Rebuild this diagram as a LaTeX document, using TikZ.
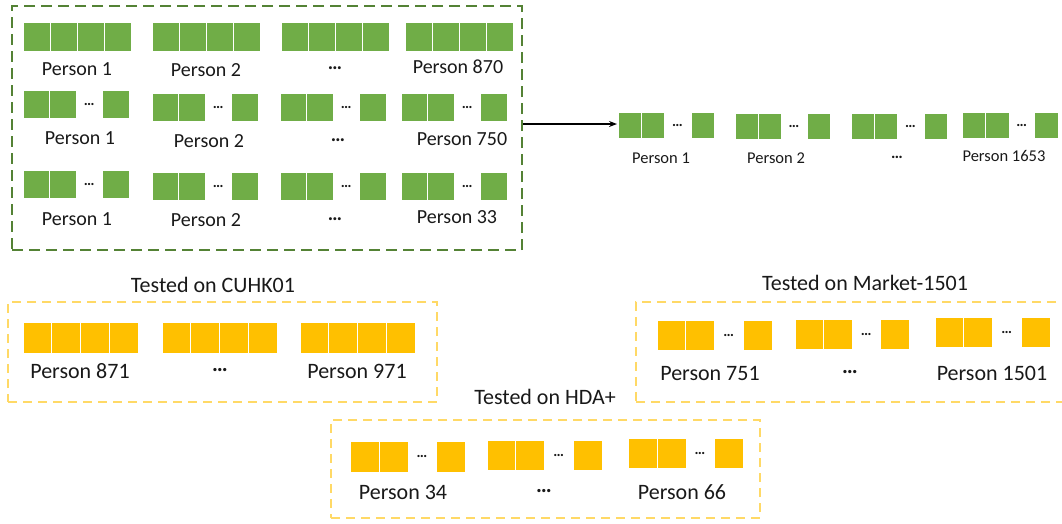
\documentclass[tikz,border=0pt]{standalone}
\usepackage{fontspec}
\setmainfont{Carlito}
\definecolor{cellgreen}{HTML}{70AD47}
\definecolor{framegreen}{HTML}{548235}
\definecolor{cellyellow}{HTML}{FFC000}
\definecolor{frameyellow}{HTML}{FFD966}
\tikzset{
  greenframe/.style={draw=framegreen, line width=2.6pt, dash pattern=on 11pt off 6pt},
  yellowframe/.style={draw=frameyellow, line width=1.8pt, dash pattern=on 9pt off 6pt},
  cell/.style={fill=#1, draw=white, line width=0.9pt},
  lblL/.style={font=\fontsize{20}{20}\selectfont, text=black!90},
  lblS/.style={font=\fontsize{16.5}{16.5}\selectfont, text=black!90},
  lblY/.style={font=\fontsize{22}{22}\selectfont, text=black!90},
  dotsS/.style={font=\fontsize{15}{15}\selectfont\bfseries, text=black!90},
  flow/.style={-{Stealth[length=8pt,width=6pt]}, line width=1.5pt}
}
\usetikzlibrary{arrows.meta}
% four adjacent cells: left, right, top, bottom, colour
\newcommand\fourcells[5]{%
  \pgfmathsetmacro\cw{(#2-#1)/4}%
  \foreach \k in {0,1,2,3}{%
    \path[cell=#5] ({#1+\k*\cw},#3) rectangle ({#1+(\k+1)*\cw},#4);}%
}
% two cells, an ellipsis, one cell: left, right end of pair, right, top, bottom, colour
\newcommand\gapcells[6]{%
  \pgfmathsetmacro\cw{(#2-#1)/2}%
  \path[cell=#6] (#1,#4) rectangle ({#1+\cw},#5);
  \path[cell=#6] ({#1+\cw},#4) rectangle (#2,#5);
  \path[cell=#6] ({#3-\cw},#4) rectangle (#3,#5);
  \node[dotsS, inner sep=0pt] at ({(#2+#3-\cw)/2},{(#4+#5)/2}) {…};%
}
\begin{document}
\begin{tikzpicture}[x=1pt,y=-1pt]
\useasboundingbox (0,0) rectangle (1062,523);
\clip (0,0) rectangle (1062,523);

% ---- training set: three merged datasets ----
\node[greenframe, minimum width=510pt, minimum height=244pt, inner sep=0pt] (train) at (267,128) {};

\fourcells{23}{131}{22}{51}{cellgreen}
\fourcells{152}{260}{22}{51}{cellgreen}
\fourcells{281}{389}{22}{51}{cellgreen}
\fourcells{405}{513}{22}{51}{cellgreen}
\node[lblL] (a1) at (77,69) {Person 1};
\node[lblL] (a2) at (206,70) {Person 2};
\node[lblL, font=\fontsize{20}{20}\selectfont\bfseries] (a3) at (335,68) {…};
\node[lblL] (a4) at (458,67) {Person 870};

\gapcells{23}{76}{129}{90}{118}{cellgreen}
\gapcells{152}{205}{258}{93}{121}{cellgreen}
\gapcells{280}{333}{386}{93}{121}{cellgreen}
\gapcells{401}{454}{507}{93}{121}{cellgreen}
\node[lblL] (b1) at (80,138) {Person 1};
\node[lblL] (b2) at (209,141) {Person 2};
\node[lblL, font=\fontsize{20}{20}\selectfont\bfseries] (b3) at (338,140) {…};
\node[lblL] (b4) at (462,139) {Person 750};

\gapcells{23}{76}{129}{170}{198}{cellgreen}
\gapcells{152}{205}{258}{172}{200}{cellgreen}
\gapcells{280}{333}{386}{172}{200}{cellgreen}
\gapcells{401}{454}{507}{172}{200}{cellgreen}
\node[lblL] (c1) at (77,219) {Person 1};
\node[lblL] (c2) at (206,220) {Person 2};
\node[lblL, font=\fontsize{20}{20}\selectfont\bfseries] (c3) at (335,219) {…};
\node[lblL] (c4) at (457,217) {Person 33};

% ---- merged identities ----
\coordinate (m1) at (617,124);
\gapcells{618}{664}{714}{112}{138}{cellgreen}
\gapcells{735}{781}{830}{113}{139}{cellgreen}
\gapcells{851}{897}{947}{113}{139}{cellgreen}
\gapcells{962}{1009}{1058}{112}{138}{cellgreen}
\node[lblS] (d1) at (661,158) {Person 1};
\node[lblS] (d2) at (776,158) {Person 2};
\node[lblS, font=\fontsize{16.5}{16.5}\selectfont\bfseries] (d3) at (897,157) {…};
\node[lblS] (d4) at (1004,156) {Person 1653};

\draw[flow] (train.east |- m1) -- (m1);

% ---- test set: CUHK01 ----
\node[lblY] (t1) at (213,285) {Tested on CUHK01};
\node[yellowframe, minimum width=429pt, minimum height=100pt, inner sep=0pt] (cuhk) at (222.5,352) {};
\fourcells{23}{138}{322}{353}{cellyellow}
\fourcells{162}{277}{322}{353}{cellyellow}
\fourcells{300}{415}{322}{353}{cellyellow}
\node[lblY] (e1) at (80,371) {Person 871};
\node[lblY, font=\fontsize{22}{22}\selectfont\bfseries] (e2) at (220,370) {…};
\node[lblY] (e3) at (357,371) {Person 971};

% ---- test set: Market-1501 ----
\node[lblY] (t2) at (865,283) {Tested on Market-1501};
\node[yellowframe, minimum width=460pt, minimum height=100pt, inner sep=0pt] (market) at (866,352) {};
\gapcells{657}{714}{772}{320}{350}{cellyellow}
\gapcells{795}{852}{909}{319}{349}{cellyellow}
\gapcells{935}{992}{1050}{317}{347}{cellyellow}
\node[lblY] (f1) at (710,373) {Person 751};
\node[lblY, font=\fontsize{22}{22}\selectfont\bfseries] (f2) at (850,372) {…};
\node[lblY] (f3) at (992,373) {Person 1501};

% ---- test set: HDA+ ----
\node[lblY] (t3) at (545,397) {Tested on HDA+};
\node[yellowframe, minimum width=429pt, minimum height=98pt, inner sep=0pt] (hda) at (545.5,469) {};
\gapcells{350}{408}{465}{441}{472}{cellyellow}
\gapcells{487}{544}{602}{440}{470}{cellyellow}
\gapcells{628}{686}{743}{438}{468}{cellyellow}
\node[lblY] (g1) at (403,492) {Person 34};
\node[lblY, font=\fontsize{22}{22}\selectfont\bfseries] (g2) at (544,491) {…};
\node[lblY] (g3) at (682,492) {Person 66};
\end{tikzpicture}
\end{document}
